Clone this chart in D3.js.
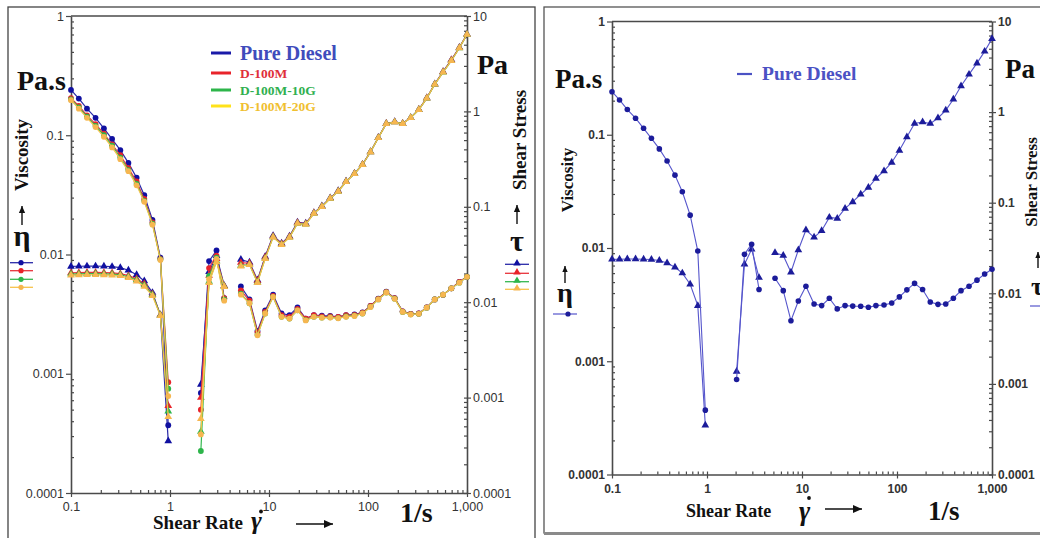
<!DOCTYPE html>
<html>
<head>
<meta charset="utf-8">
<script src="https://cdn.jsdelivr.net/npm/d3@7"></script>
<style>
  body { margin: 0; background: #fff; }
  svg { display: block; }
</style>
</head>
<body>
<svg id="chart" width="1040" height="538"></svg>
<script>
// ---------- data ----------
const shearRate = [
  0.1, 0.12, 0.145, 0.177, 0.215, 0.26, 0.315, 0.38, 0.46, 0.55, 0.665, 0.8, 0.96,
  2.05, 2.48, 2.95, 3.53,
  5.2, 6.35, 7.65, 9.15, 11.0, 13.4, 16.1, 19.4, 23.5, 28.4, 34.2, 41.5, 50, 60, 73, 88,
  106, 127, 153, 186, 224, 270, 326, 392, 472, 573, 695, 837, 1000
];
// index where each measured run starts (the curve is broken between runs)
const segmentStart = [0, 13, 17];

const seriesNames = ['Pure Diesel', 'D-100M', 'D-100M-10G', 'D-100M-20G'];

const viscPure = [
  0.24, 0.203, 0.167, 0.14, 0.114, 0.093, 0.075, 0.0586, 0.044, 0.0314, 0.0195, 0.0094, 0.00037,
  0.00069, 0.0088, 0.0108, 0.0043,
  0.0054, 0.0042, 0.00228, 0.0034, 0.0046, 0.0032, 0.0031, 0.0036, 0.0029, 0.0031, 0.00307, 0.00306,
  0.003, 0.0031, 0.00314, 0.00327, 0.0037, 0.00427, 0.00487, 0.0043, 0.00334, 0.00318, 0.0032,
  0.0036, 0.0042, 0.0046, 0.0052, 0.0059, 0.0065
];
const stressPure = [
  0.0237, 0.0238, 0.0239, 0.0239, 0.0238, 0.0236, 0.023, 0.0216, 0.0194, 0.0167, 0.0126, 0.0073, 0.00035,
  0.00137, 0.0209, 0.0306, 0.0149,
  0.028, 0.0262, 0.0171, 0.0301, 0.0499, 0.0415, 0.0491, 0.0689, 0.0671, 0.0865, 0.102, 0.124,
  0.147, 0.185, 0.224, 0.278, 0.377, 0.532, 0.747, 0.778, 0.747, 0.861, 1.047,
  1.384, 1.94, 2.61, 3.47, 4.68, 6.44
];

const viscM = [
  0.205, 0.176, 0.147, 0.124, 0.103, 0.084, 0.068, 0.053, 0.041, 0.0292, 0.0186, 0.0092, 0.00085,
  0.0005, 0.0077, 0.0098, 0.0043,
  0.005, 0.0041, 0.00222, 0.0033, 0.0045, 0.0031, 0.003, 0.0035, 0.0029, 0.0031, 0.00303, 0.00302,
  0.003, 0.0031, 0.00312, 0.00325, 0.0037, 0.00425, 0.00485, 0.0043, 0.00333, 0.00318, 0.0032,
  0.0036, 0.0042, 0.0046, 0.0052, 0.0059, 0.0065
];
const stressM = [
  0.0203, 0.0204, 0.0205, 0.0205, 0.0204, 0.0203, 0.0199, 0.019, 0.0176, 0.0156, 0.0122, 0.0074, 0.00082,
  0.001, 0.019, 0.0285, 0.0148,
  0.026, 0.0256, 0.0168, 0.0296, 0.049, 0.041, 0.0485, 0.068, 0.0665, 0.086, 0.101, 0.123,
  0.146, 0.184, 0.223, 0.277, 0.376, 0.53, 0.745, 0.775, 0.745, 0.86, 1.045,
  1.38, 1.93, 2.6, 3.45, 4.66, 6.42
];

const viscM10G = [
  0.2, 0.171, 0.143, 0.12, 0.1, 0.082, 0.065, 0.051, 0.039, 0.0282, 0.0181, 0.0091, 0.00075,
  0.000225, 0.0066, 0.0094, 0.0042,
  0.0047, 0.0039, 0.00212, 0.0032, 0.0044, 0.003, 0.0029, 0.0034, 0.00282, 0.003, 0.00296, 0.00297,
  0.00293, 0.00302, 0.00307, 0.0032, 0.00365, 0.0042, 0.0048, 0.00426, 0.0033, 0.00315, 0.00318,
  0.00358, 0.0042, 0.0046, 0.0052, 0.0058, 0.0065
];
const stressM10G = [
  0.0197, 0.0198, 0.0199, 0.0199, 0.0198, 0.0197, 0.0194, 0.0185, 0.0171, 0.0151, 0.012, 0.0073, 0.00072,
  0.00044, 0.0165, 0.027, 0.0146,
  0.0242, 0.0248, 0.0162, 0.0288, 0.0482, 0.0402, 0.0478, 0.067, 0.0656, 0.0852, 0.1, 0.122,
  0.145, 0.183, 0.222, 0.276, 0.375, 0.528, 0.742, 0.772, 0.743, 0.857, 1.04,
  1.37, 1.92, 2.57, 3.4, 4.62, 6.4
];

const viscM20G = [
  0.197, 0.167, 0.14, 0.117, 0.097, 0.079, 0.063, 0.05, 0.038, 0.0277, 0.0178, 0.009, 0.00065,
  0.00031, 0.0062, 0.0092, 0.0041,
  0.0046, 0.0039, 0.0021, 0.0032, 0.0044, 0.003, 0.0029, 0.0034, 0.0028, 0.003, 0.00295, 0.00296,
  0.00292, 0.003, 0.00305, 0.0032, 0.00363, 0.0042, 0.0048, 0.00425, 0.0033, 0.00314, 0.00318,
  0.00358, 0.0042, 0.0046, 0.0052, 0.0058, 0.0065
];
const stressM20G = [
  0.0192, 0.0193, 0.0194, 0.0194, 0.0193, 0.0192, 0.0189, 0.018, 0.0166, 0.0146, 0.0117, 0.0072, 0.00063,
  0.0006, 0.016, 0.0265, 0.0145,
  0.0238, 0.0247, 0.016, 0.0285, 0.048, 0.04, 0.0476, 0.0668, 0.0654, 0.085, 0.1, 0.122,
  0.145, 0.183, 0.222, 0.276, 0.375, 0.528, 0.742, 0.772, 0.742, 0.856, 1.04,
  1.37, 1.92, 2.57, 3.4, 4.62, 6.4
];

const xTicks = [0.1, 1, 10, 100, 1000];
const xTickLabels = ['0.1', '1', '10', '100', '1,000'];
const viscTicks = [0.0001, 0.001, 0.01, 0.1, 1];
const viscTickLabels = ['0.0001', '0.001', '0.01', '0.1', '1'];
const stressTicks = [0.0001, 0.001, 0.01, 0.1, 1, 10];
const stressTickLabels = ['0.0001', '0.001', '0.01', '0.1', '1', '10'];

// ---------- styles ----------
const SERIF = '"Liberation Serif", "Times New Roman", serif';
const SANS = '"Liberation Sans", Arial, sans-serif';
const AXIS = '#4a4a4a';

const leftColors = [
  { marker: '#1010a0', line: '#2a2aa8', legend: '#3f4cbc', swatch: '#1a1aa8' },
  { marker: '#e8232a', line: '#e8333a', legend: '#e0303a', swatch: '#e8232a' },
  { marker: '#2db54a', line: '#35b850', legend: '#30b050', swatch: '#2db54a' },
  { marker: '#f6b650', line: '#f7c24a', legend: '#f0c030', swatch: '#ffe21a' }
];

const svg = d3.select('#chart');

// panel frames
svg.append('rect').attr('x', 8).attr('y', 7).attr('width', 527).attr('height', 545)
  .attr('fill', 'none').attr('stroke', '#444').attr('stroke-width', 1.3);
svg.append('rect').attr('x', 544).attr('y', 7).attr('width', 520).attr('height', 526)
  .attr('fill', 'none').attr('stroke', '#555').attr('stroke-width', 1.3);
svg.append('line').attr('x1', 544).attr('x2', 1040).attr('y1', 533.5).attr('y2', 533.5)
  .attr('stroke', '#8a8a8a').attr('stroke-width', 3);

function buildRows(values) {
  return shearRate.map((s, i) => ({ x: s, y: values[i], seg: d3.bisectRight(segmentStart, i) - 1 }));
}

function minorTicks(scale) {
  return scale.ticks().filter(v => Math.abs(Math.log10(v) - Math.round(Math.log10(v))) > 1e-6);
}

function arrow(g, x1, y1, x2, y2, head) {
  g.append('line').attr('x1', x1).attr('y1', y1).attr('x2', x2).attr('y2', y2)
    .attr('stroke', '#111').attr('stroke-width', 1.4);
  const a = Math.atan2(y2 - y1, x2 - x1);
  const p = [[x2, y2],
    [x2 - head * Math.cos(a) + head * 0.45 * Math.sin(a), y2 - head * Math.sin(a) - head * 0.45 * Math.cos(a)],
    [x2 - head * Math.cos(a) - head * 0.45 * Math.sin(a), y2 - head * Math.sin(a) + head * 0.45 * Math.cos(a)]];
  g.append('path').attr('d', 'M' + p.join('L') + 'Z').attr('fill', '#111');
}

function txt(g, s, x, y, size, opts = {}) {
  const t = g.append('text').attr('x', x).attr('y', y).text(s)
    .attr('font-family', opts.family || SERIF)
    .attr('font-size', size)
    .attr('font-weight', opts.weight || 'bold')
    .attr('fill', opts.fill || '#111');
  if (opts.anchor) t.attr('text-anchor', opts.anchor);
  if (opts.style) t.attr('font-style', opts.style);
  if (opts.rotate) t.attr('transform', `rotate(-90,${x},${y})`);
  return t;
}

function drawPanel(p) {
  const g = svg.append('g');
  const x = d3.scaleLog().domain([0.1, 1000]).range([p.left, p.right]);
  const yV = d3.scaleLog().domain([0.0001, 1]).range([p.bottom, p.top]);
  const yS = d3.scaleLog().domain([0.0001, 10]).range([p.bottom, p.top]);

  const tickStyle = sel => sel.selectAll('text')
    .attr('font-family', SANS).attr('font-size', p.tickSize)
    .attr('font-weight', p.tickWeight).attr('fill', '#333');
  const lineStyle = sel => {
    sel.selectAll('line').attr('stroke', AXIS).attr('stroke-width', 1.2);
    sel.selectAll('path.domain').attr('stroke', AXIS).attr('stroke-width', 1.6);
  };

  // top border of the plot box
  g.append('line').attr('x1', p.left).attr('x2', p.right).attr('y1', p.top).attr('y2', p.top)
    .attr('stroke', AXIS).attr('stroke-width', 1.6);

  // minor ticks
  g.append('g').attr('transform', `translate(0,${p.bottom})`)
    .call(d3.axisBottom(x).tickValues(minorTicks(x)).tickFormat('').tickSize(-3).tickSizeOuter(0))
    .call(s => s.select('.domain').remove()).call(lineStyle);
  g.append('g').attr('transform', `translate(${p.left},0)`)
    .call(d3.axisLeft(yV).tickValues(minorTicks(yV)).tickFormat('').tickSize(-3).tickSizeOuter(0))
    .call(s => s.select('.domain').remove()).call(lineStyle);
  g.append('g').attr('transform', `translate(${p.right},0)`)
    .call(d3.axisRight(yS).tickValues(minorTicks(yS)).tickFormat('').tickSize(-3).tickSizeOuter(0))
    .call(s => s.select('.domain').remove()).call(lineStyle);

  // major axes
  g.append('g').attr('transform', `translate(0,${p.bottom})`)
    .call(d3.axisBottom(x).tickValues(xTicks).tickFormat(d => xTickLabels[xTicks.indexOf(d)])
      .tickSize(4).tickSizeOuter(0).tickPadding(p.xPad))
    .call(s => s.selectAll('.tick line').attr('y1', -3))
    .call(lineStyle).call(tickStyle);
  g.append('g').attr('transform', `translate(${p.left},0)`)
    .call(d3.axisLeft(yV).tickValues(viscTicks).tickFormat(d => viscTickLabels[viscTicks.indexOf(d)])
      .tickSize(5).tickSizeOuter(0).tickPadding(2))
    .call(lineStyle).call(tickStyle);
  g.append('g').attr('transform', `translate(${p.right},0)`)
    .call(d3.axisRight(yS).tickValues(stressTicks).tickFormat(d => stressTickLabels[stressTicks.indexOf(d)])
      .tickSize(4).tickSizeOuter(0).tickPadding(2))
    .call(s => s.selectAll('.tick line').attr('x1', -3))
    .call(lineStyle).call(tickStyle);

  // data
  const line = (xs, ys) => d3.line().x(d => x(d.x)).y(d => ys(d.y));
  p.series.forEach(s => {
    [[s.stress, yS, 'tri'], [s.visc, yV, 'circ']].forEach(([vals, ys, shape]) => {
      const rows = buildRows(vals);
      d3.groups(rows, d => d.seg).forEach(([, pts]) => {
        g.append('path').attr('d', line(x, ys)(pts))
          .attr('fill', 'none').attr('stroke', s.line).attr('stroke-width', p.lineWidth);
      });
      if (shape === 'circ') {
        g.selectAll(null).data(rows).enter().append('circle')
          .attr('cx', d => x(d.x)).attr('cy', d => ys(d.y)).attr('r', p.r)
          .attr('fill', s.marker);
      } else {
        g.selectAll(null).data(rows).enter().append('path')
          .attr('d', d3.symbol(d3.symbolTriangle, p.tri))
          .attr('transform', d => `translate(${x(d.x)},${ys(d.y)})`)
          .attr('fill', s.marker);
      }
    });
  });
  return g;
}

// ---------- left panel: all four fuels ----------
const leftSeries = [
  { visc: viscPure, stress: stressPure },
  { visc: viscM, stress: stressM },
  { visc: viscM10G, stress: stressM10G },
  { visc: viscM20G, stress: stressM20G }
].map((s, i) => Object.assign(s, leftColors[i]));

const gl = drawPanel({
  left: 71, right: 467, top: 16, bottom: 493,
  series: leftSeries, tickSize: 12.5, tickWeight: 'normal', xPad: 5,
  lineWidth: 1.2, r: 2.9, tri: 26
});

// legend
const legendY = [53, 73, 90, 106];
seriesNames.forEach((n, i) => {
  gl.append('line').attr('x1', 211).attr('x2', 231).attr('y1', legendY[i]).attr('y2', legendY[i])
    .attr('stroke', leftColors[i].swatch).attr('stroke-width', 3);
  txt(gl, n, 240, legendY[i] + (i === 0 ? 7 : 5), i === 0 ? 20 : 13.5, { fill: leftColors[i].legend });
});

txt(gl, 'Pa.s', 17, 90, 28);
txt(gl, 'Viscosity', 28, 155, 19, { anchor: 'middle', rotate: true });
arrow(gl, 22, 225, 22, 206, 7);
txt(gl, 'η', 22, 246, 30, { anchor: 'middle' });
[262.7, 270.7, 279.3, 287.3].forEach((y, i) => {
  gl.append('line').attr('x1', 10).attr('x2', 33).attr('y1', y).attr('y2', y)
    .attr('stroke', leftColors[i].line).attr('stroke-width', 1.3);
  gl.append('circle').attr('cx', 21).attr('cy', y).attr('r', 2.6).attr('fill', leftColors[i].marker);
});

txt(gl, 'Pa', 477, 74, 28);
txt(gl, 'Shear Stress', 526, 140, 19, { anchor: 'middle', rotate: true });
arrow(gl, 517, 224, 517, 205, 7);
txt(gl, 'τ', 517, 251, 30, { anchor: 'middle' });
[264.3, 273.3, 281.7, 289.3].forEach((y, i) => {
  gl.append('line').attr('x1', 505).attr('x2', 529).attr('y1', y).attr('y2', y)
    .attr('stroke', leftColors[i].line).attr('stroke-width', 1.3);
  gl.append('path').attr('d', d3.symbol(d3.symbolTriangle, 24))
    .attr('transform', `translate(517,${y - 1})`).attr('fill', leftColors[i].marker);
});

txt(gl, 'Shear Rate', 153, 529, 19);
txt(gl, 'γ', 251, 529, 26, { style: 'italic' });
gl.append('circle').attr('cx', 261).attr('cy', 511.5).attr('r', 1.9).attr('fill', '#111');
arrow(gl, 296, 524, 333, 524, 9);
txt(gl, '1/s', 400, 522, 28);

// ---------- right panel: pure diesel only ----------
const rightColor = { marker: '#1c1c9a', line: '#5656cc' };
const gr = drawPanel({
  left: 612, right: 992, top: 21.5, bottom: 474.5,
  series: [Object.assign({ visc: viscPure, stress: stressPure }, rightColor)],
  tickSize: 12, tickWeight: 'bold', xPad: 6,
  lineWidth: 1.1, r: 2.8, tri: 26
});

gr.append('line').attr('x1', 737).attr('x2', 752).attr('y1', 74).attr('y2', 74)
  .attr('stroke', '#4b52c4').attr('stroke-width', 2.2);
txt(gr, seriesNames[0], 762, 80, 19.5, { fill: '#4b52c4' });

txt(gr, 'Pa.s', 555, 88, 27);
txt(gr, 'Viscosity', 573, 180, 17, { anchor: 'middle', rotate: true });
arrow(gr, 565, 283, 565, 266, 6);
txt(gr, 'η', 565, 302, 28, { anchor: 'middle' });
gr.append('line').attr('x1', 553).attr('x2', 577).attr('y1', 314).attr('y2', 314)
  .attr('stroke', rightColor.line).attr('stroke-width', 1.2);
gr.append('circle').attr('cx', 568).attr('cy', 314).attr('r', 2.6).attr('fill', rightColor.marker);

txt(gr, 'Pa', 1005, 78, 27);
txt(gr, 'Shear Stress', 1037, 182, 17, { anchor: 'middle', rotate: true });
arrow(gr, 1038, 268, 1038, 252, 6);
txt(gr, 'τ', 1031, 295, 26);
gr.append('line').attr('x1', 1030).attr('x2', 1045).attr('y1', 306).attr('y2', 306)
  .attr('stroke', rightColor.line).attr('stroke-width', 1.2);

txt(gr, 'Shear Rate', 686, 517, 18);
txt(gr, 'γ', 799, 520, 27, { style: 'italic' });
gr.append('circle').attr('cx', 809).attr('cy', 498).attr('r', 1.9).attr('fill', '#111');
arrow(gr, 825, 509, 862, 509, 9);
txt(gr, '1/s', 928, 520, 27);
</script>
</body>
</html>
